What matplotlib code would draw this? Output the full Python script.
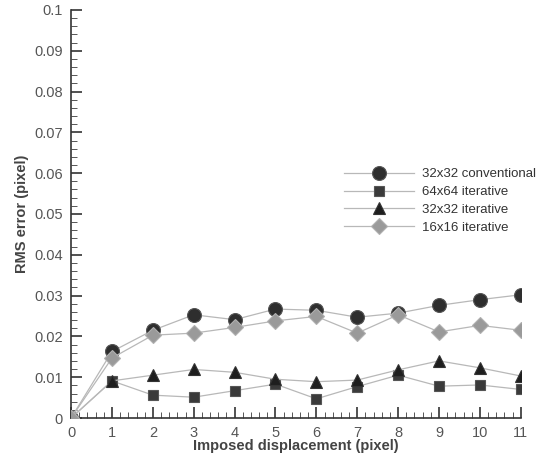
import matplotlib
matplotlib.use("Agg")
import matplotlib.pyplot as plt
from matplotlib.ticker import MultipleLocator

plt.rcParams['font.family'] = ['Liberation Sans', 'DejaVu Sans']

x = [0, 1, 2, 3, 4, 5, 6, 7, 8, 9, 10, 11]
conv32 = [0.0, 0.0163, 0.0215, 0.0253, 0.0241, 0.0267, 0.0264, 0.0247, 0.0257, 0.0276, 0.0290, 0.0302]
iter64 = [0.0, 0.0091, 0.0056, 0.0051, 0.0067, 0.0083, 0.0047, 0.0077, 0.0105, 0.0078, 0.0081, 0.0070]
iter32 = [0.0, 0.0091, 0.0105, 0.0119, 0.0112, 0.0095, 0.0089, 0.0093, 0.0118, 0.0140, 0.0123, 0.0103]
iter16 = [0.0, 0.0147, 0.0203, 0.0208, 0.0222, 0.0238, 0.0249, 0.0208, 0.0253, 0.0211, 0.0227, 0.0215]
labels = ["32x32 conventional", "64x64 iterative", "32x32 iterative", "16x16 iterative"]

fig = plt.figure(figsize=(5.47, 4.58), dpi=100)
ax = fig.add_axes([0.13, 0.0873, 0.822, 0.891])

line_c = '#b8b8b8'
ax.plot(x, conv32, color=line_c, lw=0.9, marker='o', ms=10, mfc='#2e2e2e', mec='#555555', mew=0.8, label=labels[0], zorder=3)
ax.plot(x, iter64, color=line_c, lw=0.9, marker='s', ms=7.5, mfc='#3a3a3a', mec='#555555', mew=0.8, label=labels[1], zorder=3)
ax.plot(x, iter32, color=line_c, lw=0.9, marker='^', ms=9, mfc='#1e1e1e', mec='#333333', mew=0.8, label=labels[2], zorder=3)
ax.plot(x, iter16, color=line_c, lw=0.9, marker='D', ms=8, mfc='#9a9a9a', mec='#b0b0b0', mew=0.8, label=labels[3], zorder=3)

ax.set_xlim(0, 11)
ax.set_ylim(0, 0.1)
ax.xaxis.set_major_locator(MultipleLocator(1))
ax.xaxis.set_minor_locator(MultipleLocator(0.2))
ax.yaxis.set_minor_locator(MultipleLocator(0.002))
ax.set_yticks([0, 0.01, 0.02, 0.03, 0.04, 0.05, 0.06, 0.07, 0.08, 0.09, 0.1])
ax.set_yticklabels(['0', '0.01', '0.02', '0.03', '0.04', '0.05', '0.06', '0.07', '0.08', '0.09', '0.1'])

for s in ['top', 'right']:
    ax.spines[s].set_visible(False)
for s in ['left', 'bottom']:
    ax.spines[s].set_color('#333333')
    ax.spines[s].set_linewidth(1.2)

ax.tick_params(which='major', direction='in', length=8, width=1.2, color='#333333', labelsize=10.5, labelcolor='#555555', pad=6)
ax.tick_params(which='minor', direction='in', length=4, width=0.7, color='#555555')

ax.set_xlabel('Imposed displacement (pixel)', fontsize=10.5, fontweight='bold', color='#444444', labelpad=-1)
ax.set_ylabel('RMS error (pixel)', fontsize=10.5, fontweight='bold', color='#444444', labelpad=4)

leg = ax.legend(loc='upper left', bbox_to_anchor=(0.595, 0.625), frameon=False, fontsize=9.5,
                handlelength=5.3, handletextpad=0.6, labelspacing=0.42, borderaxespad=0)
for t in leg.get_texts():
    t.set_color('#333333')

fig.savefig('out.png', dpi=100)
